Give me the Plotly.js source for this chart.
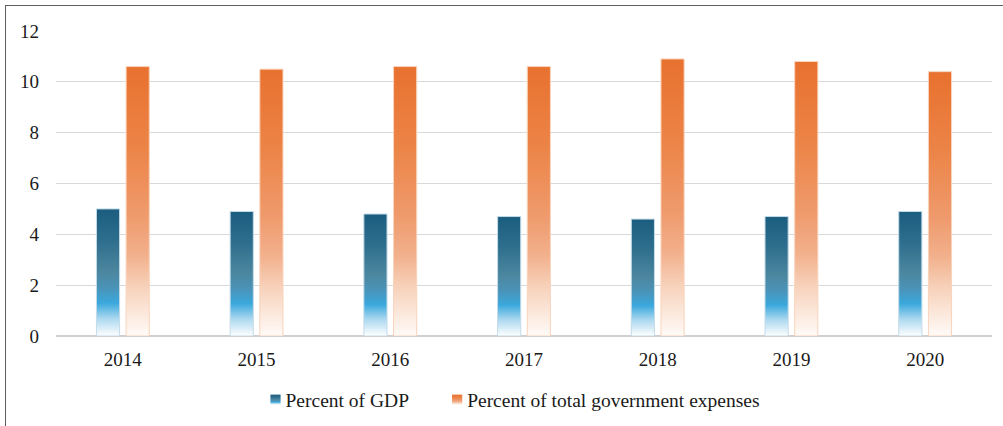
<!DOCTYPE html>
<html>
<head>
<meta charset="utf-8">
<script src="https://cdn.plot.ly/plotly-3.0.1.min.js"></script>
<style>
  html, body { margin: 0; padding: 0; background: #ffffff; }
  #frame { position: absolute; left: 5px; top: 5px; width: 1100px; height: 500px;
           border-left: 1.5px solid #5f5f5f; border-top: 1.5px solid #5f5f5f; box-sizing: border-box; }
  #chart { position: absolute; left: 0; top: 0; width: 1003px; height: 426px; }
</style>
</head>
<body>
<div id="frame"></div>
<div id="chart"></div>
<script>
const years = ['2014', '2015', '2016', '2017', '2018', '2019', '2020'];
const pctGDP = [5.0, 4.9, 4.8, 4.7, 4.6, 4.7, 4.9];
const pctGovExp = [10.6, 10.5, 10.6, 10.6, 10.9, 10.8, 10.4];
const seriesNames = ['Percent of GDP', 'Percent of total government expenses'];
const yTicks = [0, 2, 4, 6, 8, 10, 12];

const FONT = 'Liberation Serif';

const traces = [
  {
    type: 'bar', name: seriesNames[0], x: years, y: pctGDP,
    marker: { color: '#2f7ea6', line: { color: '#c3dbe8', width: 1 } },
    hoverinfo: 'skip'
  },
  {
    type: 'bar', name: seriesNames[1], x: years, y: pctGovExp,
    marker: { color: '#ec8a55', line: { color: '#f9d3bb', width: 1 } },
    hoverinfo: 'skip'
  }
];

const layout = {
  width: 1003, height: 426,
  paper_bgcolor: 'rgba(0,0,0,0)', plot_bgcolor: 'rgba(0,0,0,0)',
  margin: { l: 56, r: 11, t: 31, b: 90, pad: 0, autoexpand: false },
  barmode: 'group', bargap: 0.556, bargroupgap: 0.22,
  font: { family: FONT, size: 19, color: '#1a1a1a' },
  xaxis: {
    type: 'category', showgrid: false, zeroline: false, showline: false,
    ticks: '', tickfont: { family: FONT, size: 19, color: '#1a1a1a' },
    ticklabelstandoff: 10, automargin: false
  },
  yaxis: {
    range: [0, 12], tickvals: yTicks, ticktext: yTicks.map(String),
    showgrid: true, gridcolor: '#d9d9d9', gridwidth: 1,
    zeroline: true, zerolinecolor: '#cfcfcf', zerolinewidth: 2,
    showline: false, ticks: '', ticklabelstandoff: 16, automargin: false,
    tickfont: { family: FONT, size: 19, color: '#1a1a1a' }
  },
  showlegend: true,
  legend: {
    orientation: 'h', x: 0.5, xanchor: 'center',
    yref: 'container', y: 0.061, yanchor: 'middle',
    font: { family: FONT, size: 19.5, color: '#1a1a1a' },
    itemwidth: 30, traceorder: 'normal', bgcolor: 'rgba(0,0,0,0)'
  }
};

function shiftTransform(el, dx) {
  const tr = el.getAttribute('transform') || '';
  const m = tr.match(/translate\(\s*([-\d.]+)[ ,]+([-\d.]+)\s*\)/);
  if (m) {
    el.setAttribute('transform', tr.replace(m[0], 'translate(' + (parseFloat(m[1]) + dx) + ',' + m[2] + ')'));
  }
}

function addGradients(gd) {
  const svgNS = 'http://www.w3.org/2000/svg';
  const svg = gd.querySelector('svg.main-svg');
  let defs = svg.querySelector('defs');
  if (!defs) { defs = document.createElementNS(svgNS, 'defs'); svg.insertBefore(defs, svg.firstChild); }
  const grads = {
    gBlue: [[0, '#1b5d7f'], [0.25, '#2e6e8d'], [0.5, '#4c879f'], [0.62, '#4a93b8'], [0.74, '#3aa8dc'], [0.86, '#a9d7ef'], [1, '#ffffff']],
    gOrange: [[0, '#e8712f'], [0.3, '#ec8447'], [0.55, '#ef9a6c'], [0.7, '#f2b08c'], [0.82, '#f7d2bb'], [1, '#fffbf8']]
  };
  Object.keys(grads).forEach(id => {
    const lg = document.createElementNS(svgNS, 'linearGradient');
    lg.setAttribute('id', id);
    lg.setAttribute('x1', '0'); lg.setAttribute('y1', '0');
    lg.setAttribute('x2', '0'); lg.setAttribute('y2', '1');
    grads[id].forEach(([o, c]) => {
      const s = document.createElementNS(svgNS, 'stop');
      s.setAttribute('offset', o);
      s.setAttribute('stop-color', c);
      lg.appendChild(s);
    });
    defs.appendChild(lg);
  });
  const ids = ['gBlue', 'gOrange'];
  gd.querySelectorAll('.barlayer .trace').forEach((t, i) => {
    t.querySelectorAll('path').forEach(p => { p.style.fill = 'url(#' + ids[i] + ')'; });
  });
  gd.querySelectorAll('.legend .traces').forEach((t, i) => {
    t.querySelectorAll('.legendpoints path').forEach(p => {
      p.style.fill = 'url(#' + ids[i] + ')';
      p.style.stroke = 'none';
    });
    const lp = t.querySelector('.legendpoints');
    if (lp) lp.setAttribute('transform', 'translate(13,0) scale(0.85)');
    if (i === 1) shiftTransform(t, 13);
  });
  const leg = gd.querySelector('g.legend');
  if (leg) {
    shiftTransform(leg, -25);
    leg.querySelectorAll('[clip-path]').forEach(el => el.removeAttribute('clip-path'));
  }
}

Plotly.newPlot('chart', traces, layout, { staticPlot: true, displayModeBar: false })
  .then(addGradients);
</script>
</body>
</html>
